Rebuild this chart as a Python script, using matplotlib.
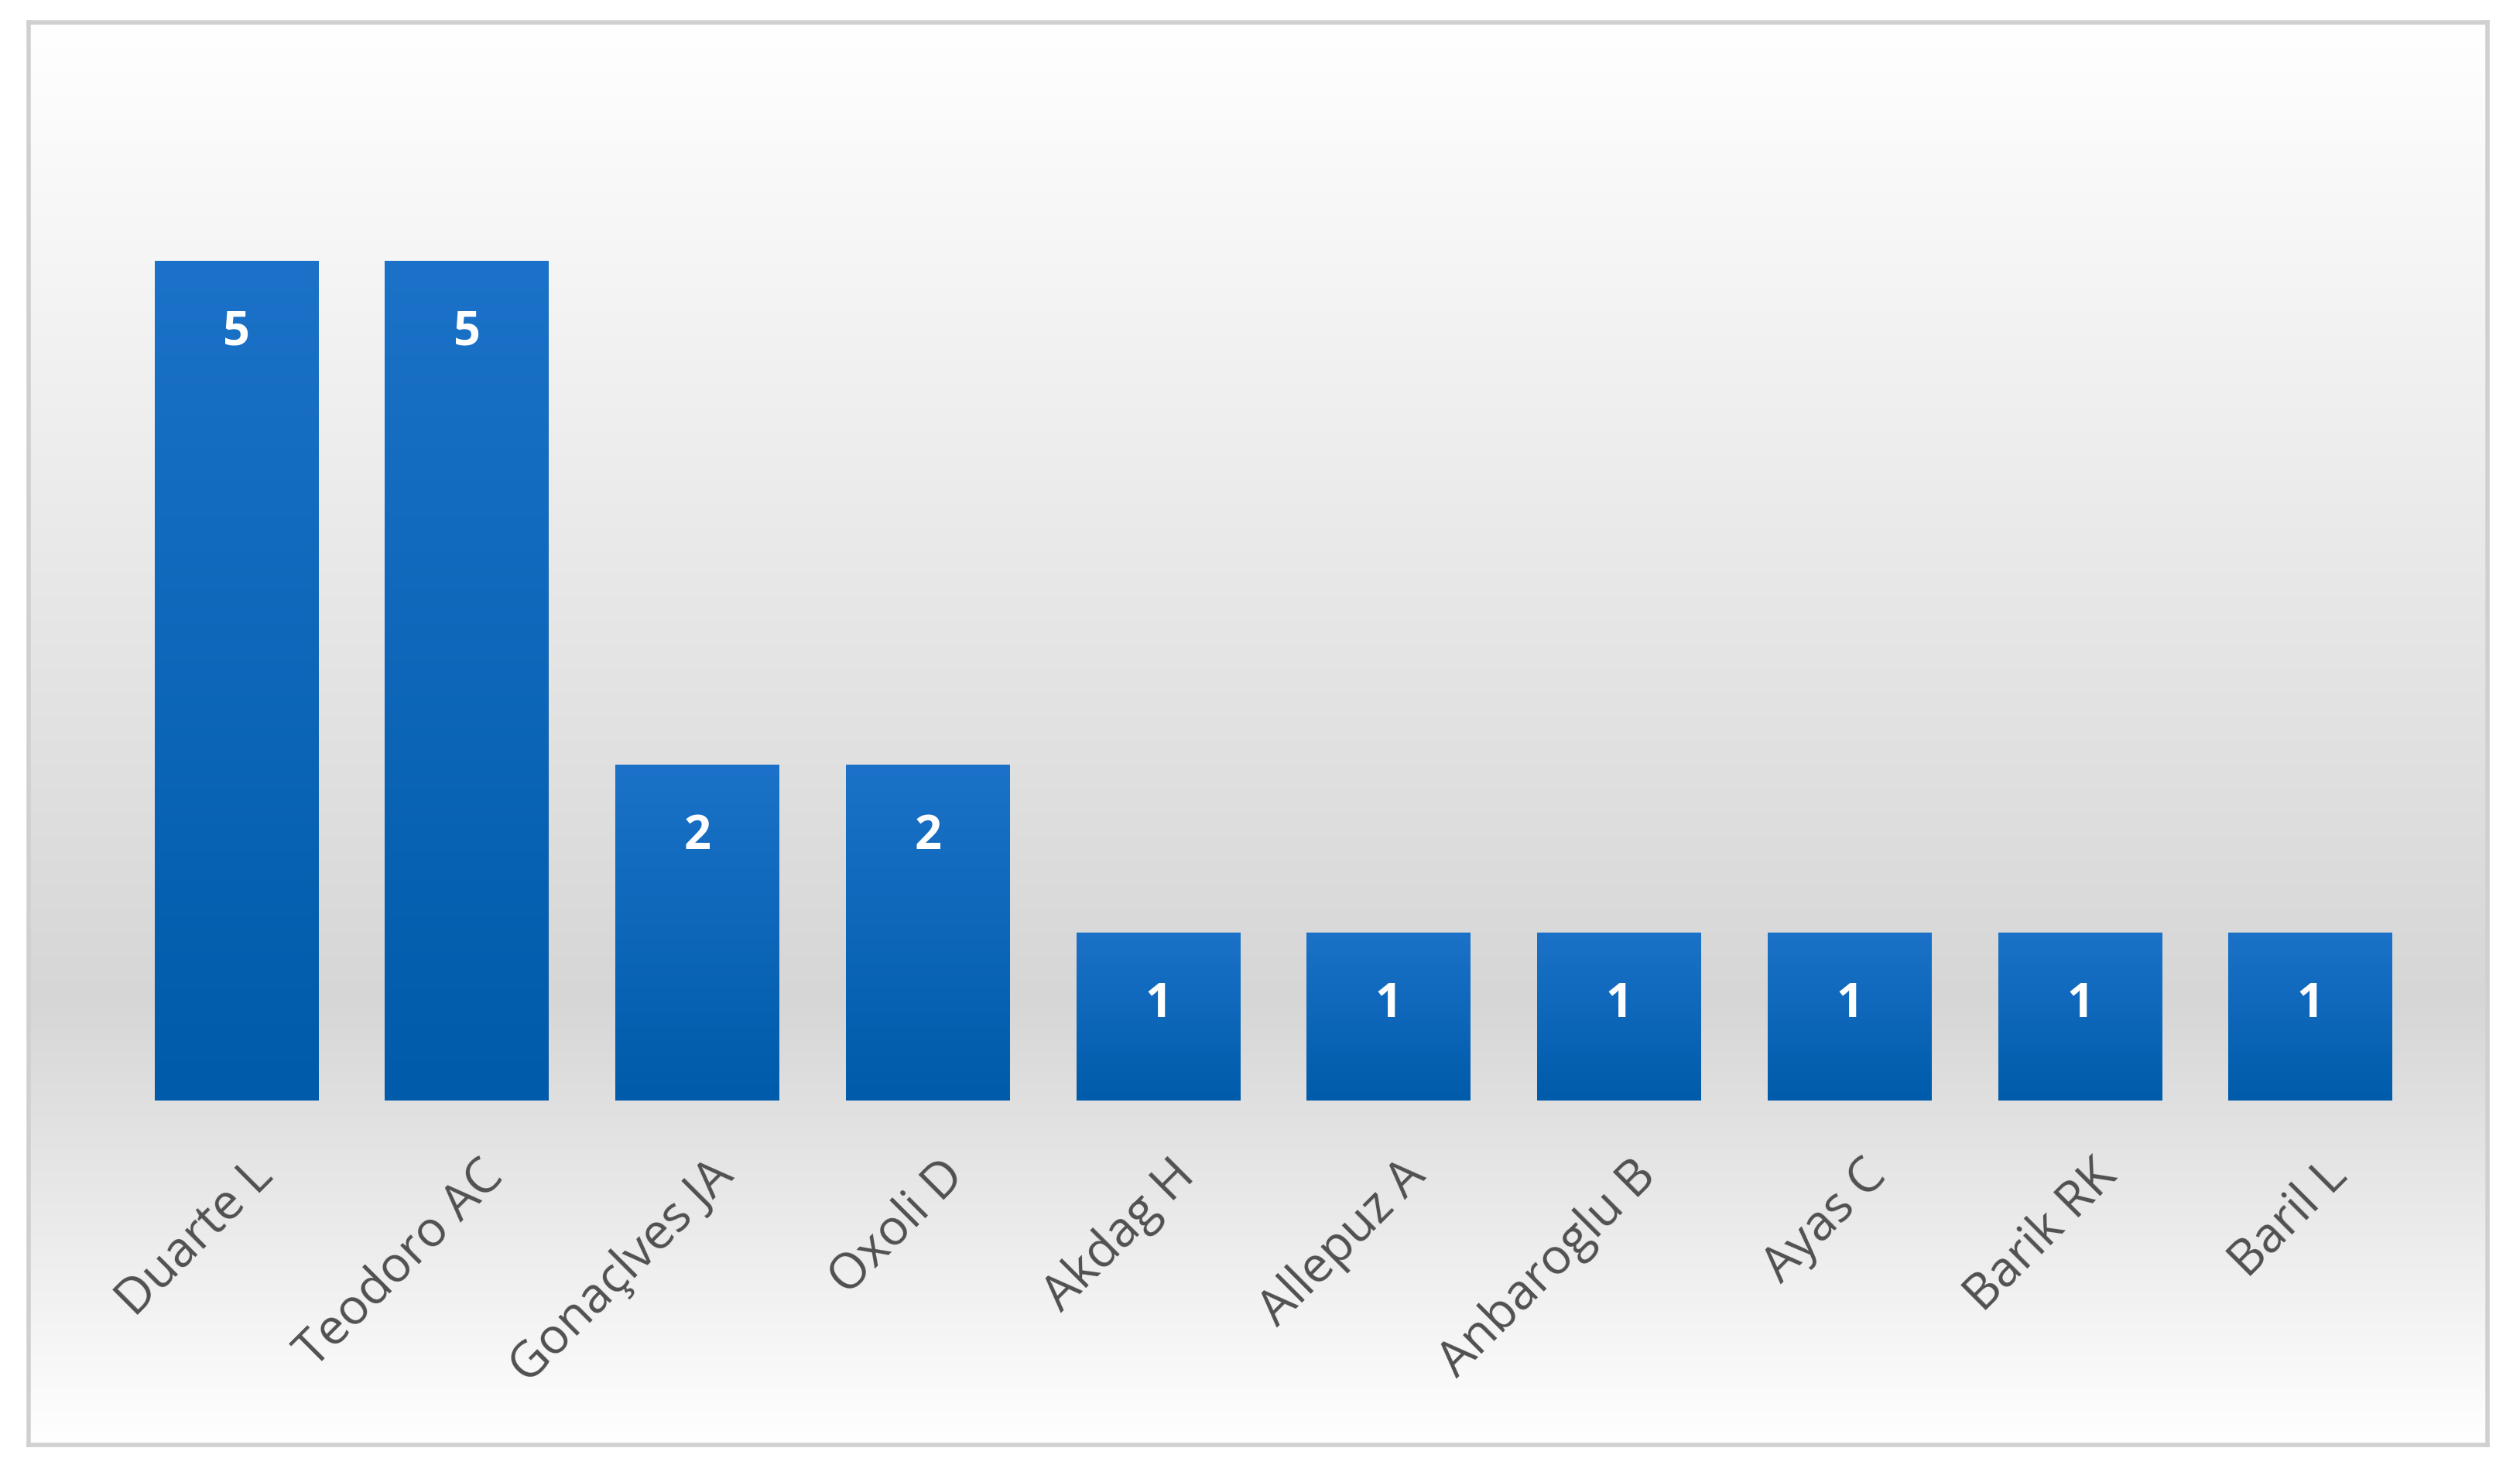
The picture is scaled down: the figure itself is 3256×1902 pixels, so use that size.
import matplotlib
matplotlib.use("Agg")
import matplotlib.pyplot as plt
import numpy as np
from matplotlib.colors import LinearSegmentedColormap

authors = ["Duarte L", "Teodoro AC", "Gonaçlves JA", "Oxoli D", "Akdag H",
           "Allepuz A", "Anbaroglu B", "Ayas C", "Barik RK", "Baril L"]
counts = [5, 5, 2, 2, 1, 1, 1, 1, 1, 1]

fig = plt.figure(figsize=(16.28, 9.51), dpi=200)
fig.patch.set_facecolor("white")
ax = fig.add_axes([18/1568, 1-898/915, (1548-18)/1568, (898-14)/915])
x = np.arange(len(authors))
ax.set_xlim(-0.9, 9.77)
ax.set_ylim(-2.05, 6.42)

ys = np.linspace(6.42, -2.05, 400)
def bg(y):
    if y > 0.6:
        t = (6.42 - y) / (6.42 - 0.6)
        return 1 - 0.16 * t
    t = (0.6 - y) / (0.6 + 2.05)
    return 0.84 + 0.16 * t
g = np.array([bg(v) for v in ys])
img = np.tile(g[:, None, None], (1, 2, 3))
ax.imshow(img, extent=[-0.9, 9.77, -2.05, 6.42], aspect="auto", zorder=0, interpolation="bilinear")

cmap = LinearSegmentedColormap.from_list("b", ["#005BAA", "#1B72C8"])
bars = ax.bar(x, counts, width=0.71, color="#0A66B8", zorder=2)
grad = np.linspace(0, 1, 256)[:, None]
for b in bars:
    im = ax.imshow(grad, cmap=cmap, origin="lower", aspect="auto",
                   extent=[b.get_x(), b.get_x()+b.get_width(), 0, b.get_height()], zorder=3)
    im.set_clip_path(b)
    ax.text(b.get_x()+b.get_width()/2, b.get_height()-0.43, str(int(b.get_height())),
            ha="center", va="center", color="white", fontsize=22, fontweight="bold",
            family="Open Sans", zorder=4)

for i, a in enumerate(authors):
    ax.text(i + 0.05, -0.3, a, rotation=45, ha="right", va="top", rotation_mode="anchor",
            fontsize=23, color="#505050", family="Open Sans", zorder=4)

ax.set_xticks([]); ax.set_yticks([])
for s in ax.spines.values():
    s.set_color("#D0D0D0"); s.set_linewidth(2)
fig.savefig("out.png", dpi=200)
